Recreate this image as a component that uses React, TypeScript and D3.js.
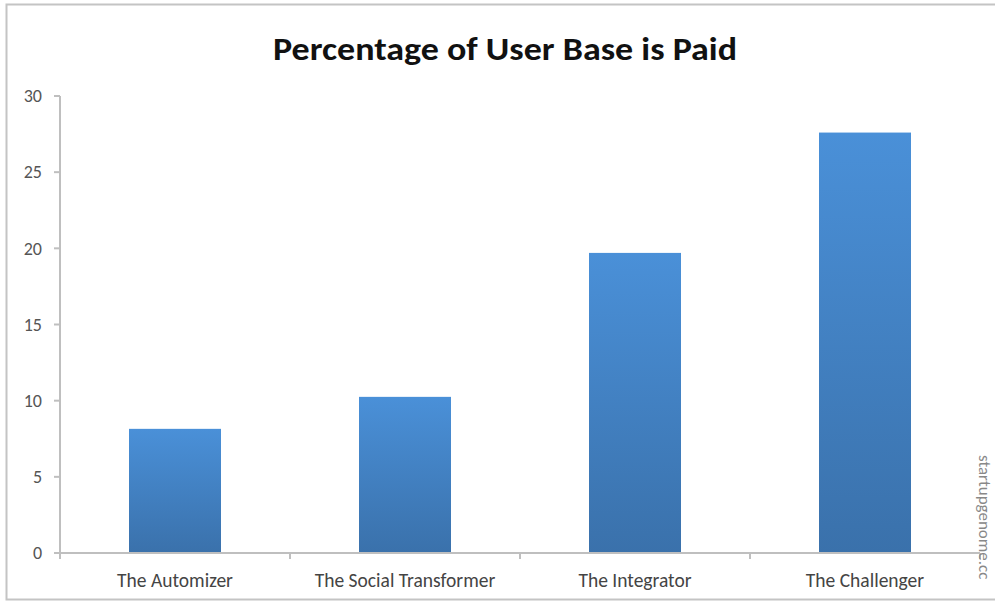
import React from "react";
import * as d3 from "d3";

const categories = ["The Automizer", "The Social Transformer", "The Integrator", "The Challenger"];
const values = [8.15, 10.25, 19.7, 27.6];
const yTicks = [0, 5, 10, 15, 20, 25, 30];
const title = "Percentage of User Base is Paid";
const watermark = "startupgenome.cc";

export default function App() {
  const W = 995, H = 602;
  const x = d3.scaleBand<string>().domain(categories).range([60, 980]).paddingInner(0.6).paddingOuter(0.3);
  const y = d3.scaleLinear().domain([0, 30]).range([553, 96]);
  const font = "Carlito, Lato, 'Open Sans', sans-serif";
  const step = x.step();
  return (
    <svg width={W} height={H} style={{ position: "absolute", left: 0, top: 0, background: "#fff" }}>
      <defs>
        <linearGradient id="barGrad" x1="0" y1="0" x2="0" y2="1">
          <stop offset="0%" stopColor="#4a90d8" />
          <stop offset="100%" stopColor="#3a71ab" />
        </linearGradient>
      </defs>
      <rect x={6.5} y={4.5} width={1000} height={595} fill="none" stroke="#c4c4c4" strokeWidth={2} />
      <text x={505} y={60} textAnchor="middle" fontFamily={font} fontWeight="bold" fontSize={32} fill="#111" textLength={464} lengthAdjust="spacingAndGlyphs">
        {title}
      </text>
      {categories.map((c, i) => (
        <rect key={c} x={x(c)} y={y(values[i])} width={x.bandwidth()} height={y(0) - y(values[i])} fill="url(#barGrad)" />
      ))}
      <line x1={60} x2={60} y1={96} y2={553} stroke="#bfbfbf" strokeWidth={2} />
      <line x1={60} x2={980} y1={553} y2={553} stroke="#bfbfbf" strokeWidth={2} />
      {yTicks.map((t) => (
        <g key={t}>
          <line x1={54} x2={60} y1={y(t)} y2={y(t)} stroke="#bfbfbf" strokeWidth={2} />
          <text x={42} y={y(t)} dy="0.35em" textAnchor="end" fontFamily={font} fontSize={18} fill="#555">
            {t}
          </text>
        </g>
      ))}
      {d3.range(categories.length + 1).map((i) => (
        <line key={i} x1={60 + i * step} x2={60 + i * step} y1={553} y2={559} stroke="#bfbfbf" strokeWidth={2} />
      ))}
      {categories.map((c) => (
        <text key={c} x={(x(c) as number) + x.bandwidth() / 2} y={587} textAnchor="middle" fontFamily={font} fontSize={19.5} fill="#444">
          {c}
        </text>
      ))}
      <text transform={`translate(979,455) rotate(90)`} fontFamily={font} fontSize={17} fill="#888">
        {watermark}
      </text>
    </svg>
  );
}
